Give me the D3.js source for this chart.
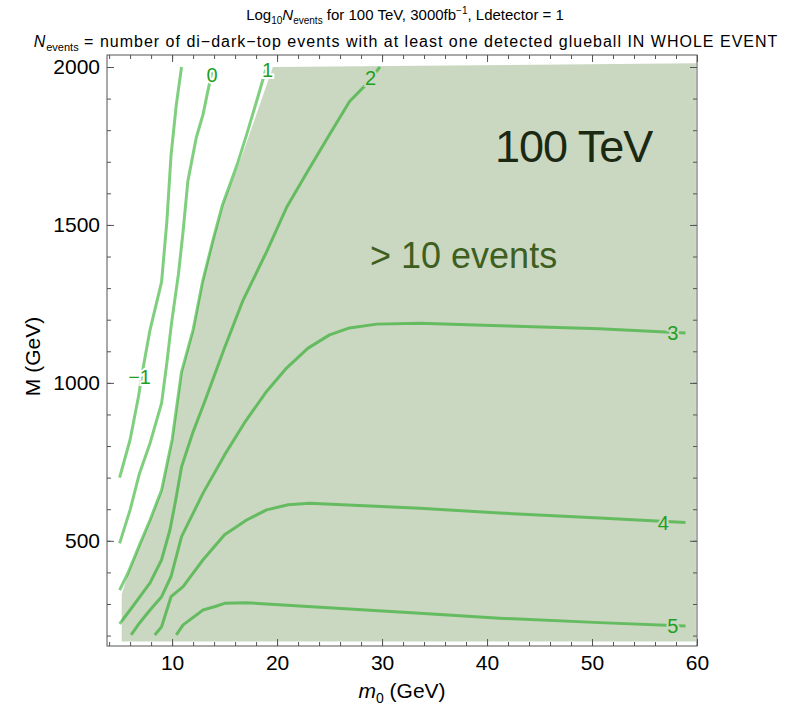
<!DOCTYPE html>
<meta charset="utf-8">
<script src="https://d3js.org/d3.v7.min.js"></script>
<style>
  body { margin: 0; background: #fff; }
  text { font-family: "Liberation Sans", Arial, sans-serif; }
</style>
<div id="chart"></div>
<script>

// contour levels of Log10 Nevents (m0 in GeV, M in GeV)
var levels = [-1, 0, 1, 2, 3, 4, 5];

var m0_lvlm1 = [5.0, 6.0, 6.8, 7.2, 7.9, 9.0, 9.5, 9.9, 10.4, 10.9];
var M_lvlm1  = [700, 820, 957, 1040, 1168, 1320, 1510, 1720, 1880, 2000];

var m0_lvl0 = [5.0, 6.0, 6.9, 7.9, 9.0, 9.5, 9.95, 10.6, 11.05, 11.5, 12.3, 12.95, 13.4, 13.9];
var M_lvl0  = [492, 598, 714, 809, 936, 1063, 1190, 1343, 1480, 1638, 1776, 1850, 1923, 2000];

var m0_lvl1 = [5.0, 5.8, 6.9, 7.9, 9.0, 10.0, 10.9, 12.0, 12.9, 13.9, 14.8, 16.2, 17.1, 18.1, 19.0];
var M_lvl1  = [344, 398, 487, 566, 661, 820, 1035, 1168, 1320, 1453, 1564, 1691, 1786, 1897, 2000];

var m0_lvl2 = [5.0, 6.0, 6.9, 7.9, 9.0, 9.8, 10.35, 10.9, 12.0, 13.1, 15.0, 16.7, 19.0, 20.9, 22.9, 25.0, 26.9, 28.5, 29.8];
var M_lvl2  = [237, 281, 322, 367, 440, 535, 630, 734, 845, 940, 1111, 1257, 1415, 1555, 1669, 1786, 1891, 1945, 2000];

var m0_lvl3 = [6.1, 6.9, 7.9, 9.0, 9.9, 10.9, 12.95, 15.0, 16.9, 19.0, 20.9, 22.95, 25.0, 26.9, 29.5, 33.6, 41.2, 50.7, 58.9];
var M_lvl3  = [202, 240, 281, 323, 387, 513, 651, 772, 874, 973, 1047, 1110, 1152, 1174, 1186, 1189, 1181, 1171, 1158];

var m0_lvl4 = [8.35, 9.0, 9.9, 11.05, 12.95, 15.0, 17.1, 19.0, 21.05, 23.1, 33.6, 41.2, 50.7, 58.9];
var M_lvl4  = [202, 228, 323, 355, 440, 519, 566, 598, 614, 619, 603, 588, 572, 558];

var m0_lvl5 = [10.4, 11.05, 12.95, 14.1, 15.0, 17.1, 33.6, 41.2, 50.7, 58.9];
var M_lvl5  = [202, 234, 281, 292, 302, 304, 271, 255, 241, 230];

// region with more than 10 events
var m0_region = [5.2, 5.2, 5.8, 6.9, 7.9, 9.0, 10.0, 10.9, 12.0, 12.9, 13.9, 14.9, 16.4, 17.4, 18.5, 19.6, 59.9, 59.9];
var M_region  = [181, 330, 395, 485, 563, 658, 818, 1033, 1168, 1322, 1455, 1570, 1695, 1790, 1895, 2000, 2012, 181];

// where the contour labels sit
var labelM0 = [6.9, 13.8, 19.1, 28.9, 57.7, 56.8, 57.7];
var labelM  = [1020, 1975, 1990, 1967, 1159, 557, 230];

var xTicks = [10, 20, 30, 40, 50, 60];
var yTicks = [500, 1000, 1500, 2000];

var contours = [
  [m0_lvlm1, M_lvlm1], [m0_lvl0, M_lvl0], [m0_lvl1, M_lvl1], [m0_lvl2, M_lvl2],
  [m0_lvl3, M_lvl3], [m0_lvl4, M_lvl4], [m0_lvl5, M_lvl5]
].map(function(c, i) {
  return { level: levels[i], pts: c[0].map(function(m, j) { return [m, c[1][j]]; }) };
});

var W = 797, H = 715;
var margin = {top: 55, right: 100, bottom: 69, left: 107},
    width = W - margin.left - margin.right,
    height = H - margin.top - margin.bottom;

var shade = "#cad8c1";

var svg = d3.select("#chart").append("svg")
    .attr("width", W)
    .attr("height", H);

var g = svg.append("g")
    .attr("transform", "translate(" + margin.left + "," + margin.top + ")");

var x = d3.scaleLinear().domain([3.8, 60]).range([0, width]);
var y = d3.scaleLinear().domain([167, 2038]).range([height, 0]);

g.append("clipPath").attr("id", "clip")
  .append("rect").attr("width", width).attr("height", height);

var plot = g.append("g").attr("clip-path", "url(#clip)");

// shaded region
plot.append("path")
  .datum(m0_region.map(function(m, j) { return [m, M_region[j]]; }))
  .attr("fill", shade)
  .attr("d", d3.line().x(function(d) { return x(d[0]); }).y(function(d) { return y(d[1]); }));

// contour lines
var line = d3.line()
  .x(function(d) { return x(d[0]); })
  .y(function(d) { return y(d[1]); });

plot.selectAll(".contour")
  .data(contours)
  .enter().append("path")
    .attr("class", "contour")
    .attr("fill", "none")
    .attr("stroke", "rgb(0,160,0)")
    .attr("stroke-opacity", 0.5)
    .attr("stroke-width", 3)
    .attr("stroke-linejoin", "round")
    .attr("d", function(d) { return line(d.pts); });

// contour labels
g.selectAll(".clabel")
  .data(levels)
  .enter().append("text")
    .attr("class", "clabel")
    .attr("x", function(d, i) { return x(labelM0[i]); })
    .attr("y", function(d, i) { return y(labelM[i]); })
    .attr("dy", "0.36em")
    .attr("text-anchor", "middle")
    .attr("font-size", "20px")
    .attr("fill", "#1f9f1f")
    .attr("stroke", function(d) { return d <= 1 ? "#fff" : shade; })
    .attr("stroke-width", 4)
    .attr("paint-order", "stroke")
    .text(function(d) { return d < 0 ? "\u2212" + (-d) : d; });

// big annotations
g.append("text")
  .attr("x", 495 - margin.left)
  .attr("y", 162 - margin.top)
  .attr("font-family", "Lato, sans-serif")
  .attr("font-size", "45px")
  .attr("letter-spacing", "-1px")
  .attr("fill", "#1b2812")
  .text("100 TeV");

g.append("text")
  .attr("x", 370 - margin.left)
  .attr("y", 268 - margin.top)
  .attr("font-family", "Lato, sans-serif")
  .attr("font-size", "36px")
  .attr("fill", "#3f5f20")
  .text("> 10 events");

// frame + ticks (inward)
var frameCol = "#555";
function styleAxis(sel) {
  sel.select(".domain").remove();
  sel.selectAll("line").attr("stroke", frameCol);
  sel.selectAll("text").attr("font-size", "21px").attr("fill", "#000")
    .attr("font-family", "Liberation Sans, Arial, sans-serif");
}

var xMinor = d3.range(4, 61, 2), yMinor = d3.range(200, 2001, 100);

g.append("g").attr("transform", "translate(0," + height + ")")
  .call(d3.axisBottom(x).tickValues(xMinor).tickSize(-4).tickFormat("")).call(styleAxis);
g.append("g").attr("transform", "translate(0," + height + ")")
  .call(d3.axisBottom(x).tickValues(xTicks).tickSize(-7).tickPadding(9).tickFormat(d3.format("d"))).call(styleAxis);
g.append("g")
  .call(d3.axisTop(x).tickValues(xMinor).tickSize(-4).tickFormat("")).call(styleAxis);
g.append("g")
  .call(d3.axisTop(x).tickValues(xTicks).tickSize(-7).tickFormat("")).call(styleAxis);

g.append("g")
  .call(d3.axisLeft(y).tickValues(yMinor).tickSize(-4).tickFormat("")).call(styleAxis);
g.append("g")
  .call(d3.axisLeft(y).tickValues(yTicks).tickSize(-7).tickPadding(7).tickFormat(d3.format("d"))).call(styleAxis);
g.append("g").attr("transform", "translate(" + width + ",0)")
  .call(d3.axisRight(y).tickValues(yMinor).tickSize(-4).tickFormat("")).call(styleAxis);
g.append("g").attr("transform", "translate(" + width + ",0)")
  .call(d3.axisRight(y).tickValues(yTicks).tickSize(-7).tickFormat("")).call(styleAxis);

g.append("rect")
  .attr("width", width).attr("height", height)
  .attr("fill", "none").attr("stroke", frameCol).attr("stroke-width", 1);

// axis titles
var xt = svg.append("text")
  .attr("x", margin.left + width / 2)
  .attr("y", 698)
  .attr("text-anchor", "middle")
  .attr("font-size", "21px");
xt.append("tspan").attr("font-style", "italic").text("m");
xt.append("tspan").attr("font-size", "14px").attr("dy", 5).text("0");
xt.append("tspan").attr("dy", -5).text(" (GeV)");

svg.append("text")
  .attr("transform", "translate(40," + (margin.top + height / 2 + 6) + ") rotate(-90)")
  .attr("text-anchor", "middle")
  .attr("font-size", "21px")
  .text("M (GeV)");

// titles
var t1 = svg.append("text")
  .attr("x", 405).attr("y", 20)
  .attr("text-anchor", "middle")
  .attr("font-size", "15px");
t1.append("tspan").text("Log");
t1.append("tspan").attr("font-size", "10px").attr("dy", 4).text("10");
t1.append("tspan").attr("font-style", "italic").attr("dy", -4).text("N");
t1.append("tspan").attr("font-size", "10px").attr("dy", 4).text("events");
t1.append("tspan").attr("dy", -4).text(" for 100 TeV, 3000fb");
t1.append("tspan").attr("font-size", "10px").attr("dy", -6).text("\u22121");
t1.append("tspan").attr("dy", 6).text(", Ldetector = 1");

var t2 = svg.append("text")
  .attr("x", 406).attr("y", 47)
  .attr("text-anchor", "middle")
  .attr("font-size", "16px")
  .attr("letter-spacing", "1px");
t2.append("tspan").attr("font-style", "italic").text("N");
t2.append("tspan").attr("font-size", "11px").attr("letter-spacing", "0px").attr("dy", 4).text("events");
t2.append("tspan").attr("dy", -4).text(" = number of di\u2212dark\u2212top events with at least one detected glueball IN WHOLE EVENT");

</script>
